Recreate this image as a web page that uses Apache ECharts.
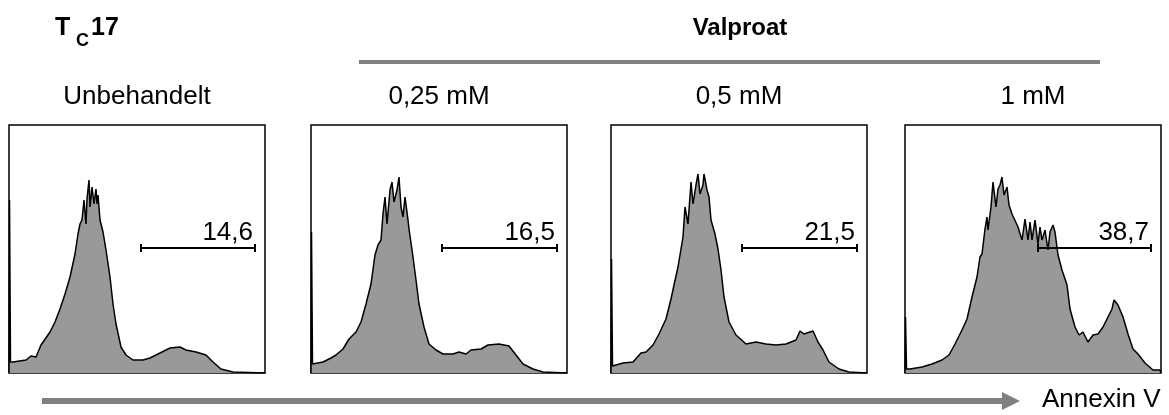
<!DOCTYPE html>
<html><head><meta charset="utf-8">
<script src="https://cdn.jsdelivr.net/npm/echarts@6/dist/echarts.min.js"></script>
<style>html,body{margin:0;padding:0;background:#fff}#c{width:1169px;height:415px}</style>
</head><body><div id="c"></div>
<script>
// Panel titles
const panelTitles = ["Unbehandelt", "0,25 mM", "0,5 mM", "1 mM"];
const gateLabels = ["14,6", "16,5", "21,5", "38,7"];
const gateStart = [132, 131, 131, 133];
const gateEnd = [246, 246, 246, 246];
const gateLevel = [125, 125, 125, 125];

// Histograms: [channel, count]
const histUnbehandelt = [[0,0],[0.5,173],[1.5,11],[4,11],[17,13],[22,17],[27,16],[32,28],[41,41],[46,51],[51,64],[56,79],[61,96],[66,119],[69,139],[71,149],[73,153],[75,173],[77,149],[78,174],[80,193],[81,166],[83,186],[85,169],[87,184],[88,169],[89,178],[91,153],[94,141],[97,123],[101,96],[104,69],[107,49],[112,26],[117,18],[124,13],[134,13],[141,15],[151,20],[161,25],[171,26],[177,23],[187,21],[197,18],[204,11],[212,4],[224,1],[256,0]];
const hist025 = [[0,0],[0.5,141],[1.5,9],[3,9],[12,11],[20,15],[25,18],[32,24],[38,34],[45,41],[50,51],[55,69],[60,89],[64,118],[67,128],[70,133],[72,159],[74,176],[76,149],[79,183],[81,191],[83,171],[86,183],[88,196],[90,166],[92,156],[94,176],[97,153],[98,144],[102,116],[105,93],[108,69],[113,46],[118,29],[125,23],[132,19],[142,19],[148,21],[155,19],[160,23],[170,24],[177,28],[188,29],[198,27],[205,18],[212,9],[222,4],[232,1],[256,0]];
const hist05 = [[0,0],[0.5,114],[1.5,7],[3,7],[12,10],[22,11],[30,20],[35,21],[42,28],[48,39],[55,54],[60,74],[63,88],[67,106],[70,124],[72,136],[74,166],[77,149],[80,191],[82,169],[85,188],[87,199],[89,179],[92,188],[93,199],[96,183],[98,176],[100,153],[104,139],[107,124],[110,103],[113,76],[118,51],[125,38],[135,29],[145,31],[155,29],[165,28],[175,29],[185,33],[189,42],[193,39],[202,42],[207,31],[212,23],[218,11],[228,4],[238,1],[256,0]];
const hist1 = [[0,0],[0.5,56],[1.5,4],[5,4],[17,6],[27,9],[37,13],[44,18],[50,29],[57,43],[62,54],[67,76],[72,96],[75,116],[77,119],[80,144],[82,156],[83,143],[86,166],[88,191],[91,166],[93,184],[95,188],[97,196],[99,178],[102,186],[104,168],[107,159],[109,161],[113,146],[117,133],[120,154],[123,133],[125,151],[127,133],[130,153],[133,129],[135,146],[137,133],[140,143],[143,123],[145,141],[148,148],[150,141],[153,118],[157,103],[162,88],[165,64],[170,46],[174,38],[178,41],[183,31],[188,38],[193,39],[198,46],[203,56],[207,64],[209,73],[213,68],[218,56],[223,39],[228,24],[233,19],[240,10],[248,3],[255,3],[256,0]];
const hists = [histUnbehandelt, hist025, hist05, hist1];

const panelLeft = [9, 311, 611, 905];
const panelTop = 125, panelW = 256, panelH = 248;
const FONT = '"Liberation Sans", Arial, sans-serif';

const grids = [], xAxes = [], yAxes = [], series = [];
hists.forEach((h, i) => {
  grids.push({left: panelLeft[i], top: panelTop, width: panelW, height: panelH,
    show: true, borderColor: '#000', borderWidth: 1.5, backgroundColor: 'transparent'});
  xAxes.push({type: 'value', gridIndex: i, min: 0, max: 256, show: false});
  yAxes.push({type: 'value', gridIndex: i, min: 0, max: 248, show: false});
  series.push({type: 'line', xAxisIndex: i, yAxisIndex: i, data: h, showSymbol: false,
    symbol: 'none', lineStyle: {color: '#000', width: 1.5},
    areaStyle: {color: '#999999', opacity: 1}, animation: false, z: 2});
  series.push({type: 'custom', xAxisIndex: i, yAxisIndex: i,
    data: [[gateStart[i], gateEnd[i], gateLevel[i]]], animation: false, z: 5,
    renderItem: function (params, api) {
      const p1 = api.coord([api.value(0), api.value(2)]);
      const p2 = api.coord([api.value(1), api.value(2)]);
      const ls = {stroke: '#000', lineWidth: 2};
      return {type: 'group', children: [
        {type: 'line', shape: {x1: p1[0], y1: p1[1], x2: p2[0], y2: p2[1]}, style: ls},
        {type: 'line', shape: {x1: p1[0], y1: p1[1] - 4, x2: p1[0], y2: p1[1] + 4}, style: ls},
        {type: 'line', shape: {x1: p2[0], y1: p2[1] - 4, x2: p2[0], y2: p2[1] + 4}, style: ls},
        {type: 'text', x: p2[0] - 2, y: p2[1] - 2, style: {text: gateLabels[i],
          font: '26px ' + FONT, fill: '#000', align: 'right', verticalAlign: 'bottom'}}
      ]};
    }});
});

const graphics = [
  {type: 'text', x: 55, y: 28, style: {text: 'T', font: 'bold 25px ' + FONT, fill: '#000', verticalAlign: 'middle'}},
  {type: 'text', x: 76, y: 41, style: {text: 'C', font: 'bold 18px ' + FONT, fill: '#000', verticalAlign: 'middle'}},
  {type: 'text', x: 91, y: 28, style: {text: '17', font: 'bold 25px ' + FONT, fill: '#000', verticalAlign: 'middle'}},
  {type: 'text', x: 740, y: 28, style: {text: 'Valproat', font: 'bold 24px ' + FONT, fill: '#000', align: 'center', verticalAlign: 'middle'}},
  {type: 'line', shape: {x1: 359, y1: 62, x2: 1100, y2: 62}, style: {stroke: '#808080', lineWidth: 4}},
  {type: 'line', shape: {x1: 42, y1: 401, x2: 1004, y2: 401}, style: {stroke: '#808080', lineWidth: 6}},
  {type: 'polygon', shape: {points: [[1002, 392], [1020, 401], [1002, 410]]}, style: {fill: '#808080'}},
  {type: 'text', x: 1042, y: 400, style: {text: 'Annexin V', font: '26px ' + FONT, fill: '#000', verticalAlign: 'middle'}}
];
panelTitles.forEach((t, i) => {
  graphics.push({type: 'text', x: panelLeft[i] + panelW / 2, y: 97,
    style: {text: t, font: '26px ' + FONT, fill: '#000', align: 'center', verticalAlign: 'middle'}});
});

const chart = echarts.init(document.getElementById('c'), null, {renderer: 'canvas'});
chart.setOption({animation: false, grid: grids, xAxis: xAxes, yAxis: yAxes, series: series, graphic: graphics});
</script></body></html>
